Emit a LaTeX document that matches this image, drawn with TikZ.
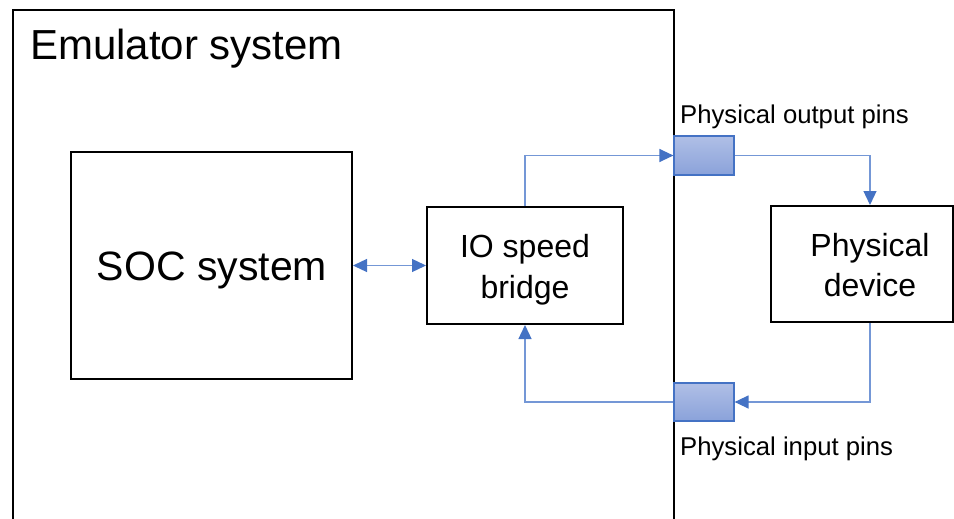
\documentclass[tikz,border=0pt]{standalone}
\usepackage{fontspec}
\setmainfont{Liberation Sans}
\usetikzlibrary{arrows.meta}
\definecolor{linkblue}{HTML}{4472C4}
\definecolor{linkline}{HTML}{7497D6}
\definecolor{pintop}{HTML}{B0BFE6}
\definecolor{pinbot}{HTML}{8AA2DA}
\tikzset{
  block/.style={draw=black, line width=2pt, fill=white, inner sep=0pt},
  boxtext/.style={align=center, inner sep=0pt},
  pin/.style={draw=linkblue, line width=1.2pt, top color=pintop, bottom color=pinbot, inner sep=0pt},
  tip/.tip={Triangle[length=14pt,width=13pt,color=linkblue]},
  link/.style={draw=linkline, line width=1.3pt, -tip},
  pinlabel/.style={font=\fontsize{25.7}{30}\selectfont, anchor=base west, inner sep=0pt}
}
\begin{document}
\begin{tikzpicture}[x=1pt, y=-1pt]
  \useasboundingbox (0,0) rectangle (954,519);
  \begin{scope}
    \clip (0,0) rectangle (954,519);
    % emulator frame, open at the bottom edge
    \draw[line width=2pt] (13,540) -- (13,10) -- (674,10) -- (674,540);
    % physical device box, at the right edge
    \node[block, minimum width=182pt, minimum height=116pt] (dev) at (862,264) {};
  \end{scope}
  \node[boxtext, font=\fontsize{32}{40}\selectfont] (devtxt) at (870,265) {Physical\\device};
  \node[anchor=base west, inner sep=0pt, font=\fontsize{42}{50}\selectfont] (emu) at (30,60) {Emulator system};

  \node[block, minimum width=281pt, minimum height=227pt] (soc) at (211.5,265.5) {};
  \node[boxtext, font=\fontsize{41}{49}\selectfont] (soctxt) at (212,270) {SOC system};
  \node[block, minimum width=196pt, minimum height=117pt] (io) at (525,265.5) {};
  \node[boxtext, font=\fontsize{32}{41}\selectfont] (iotxt) at (525,270) {IO speed\\bridge};

  \node[pin, minimum width=60pt, minimum height=39pt] (opin) at (704,155.5) {};
  \node[pin, minimum width=60pt, minimum height=38pt] (ipin) at (704,402) {};

  \node[pinlabel] (olab) at (680,124) {Physical output pins};
  \node[pinlabel] (ilab) at (680,455) {Physical input pins};

  % connectors
  \draw[link, tip-tip] (soc.east) -- (io.west);
  \draw[link] (io.north) |- (opin.west);
  \draw[link] (opin.east) -| (dev.north -| 870,0);
  \draw[link] (dev.south -| 870,0) |- (ipin.east);
  \draw[link] (ipin.west) -| (io.south);
\end{tikzpicture}
\end{document}
